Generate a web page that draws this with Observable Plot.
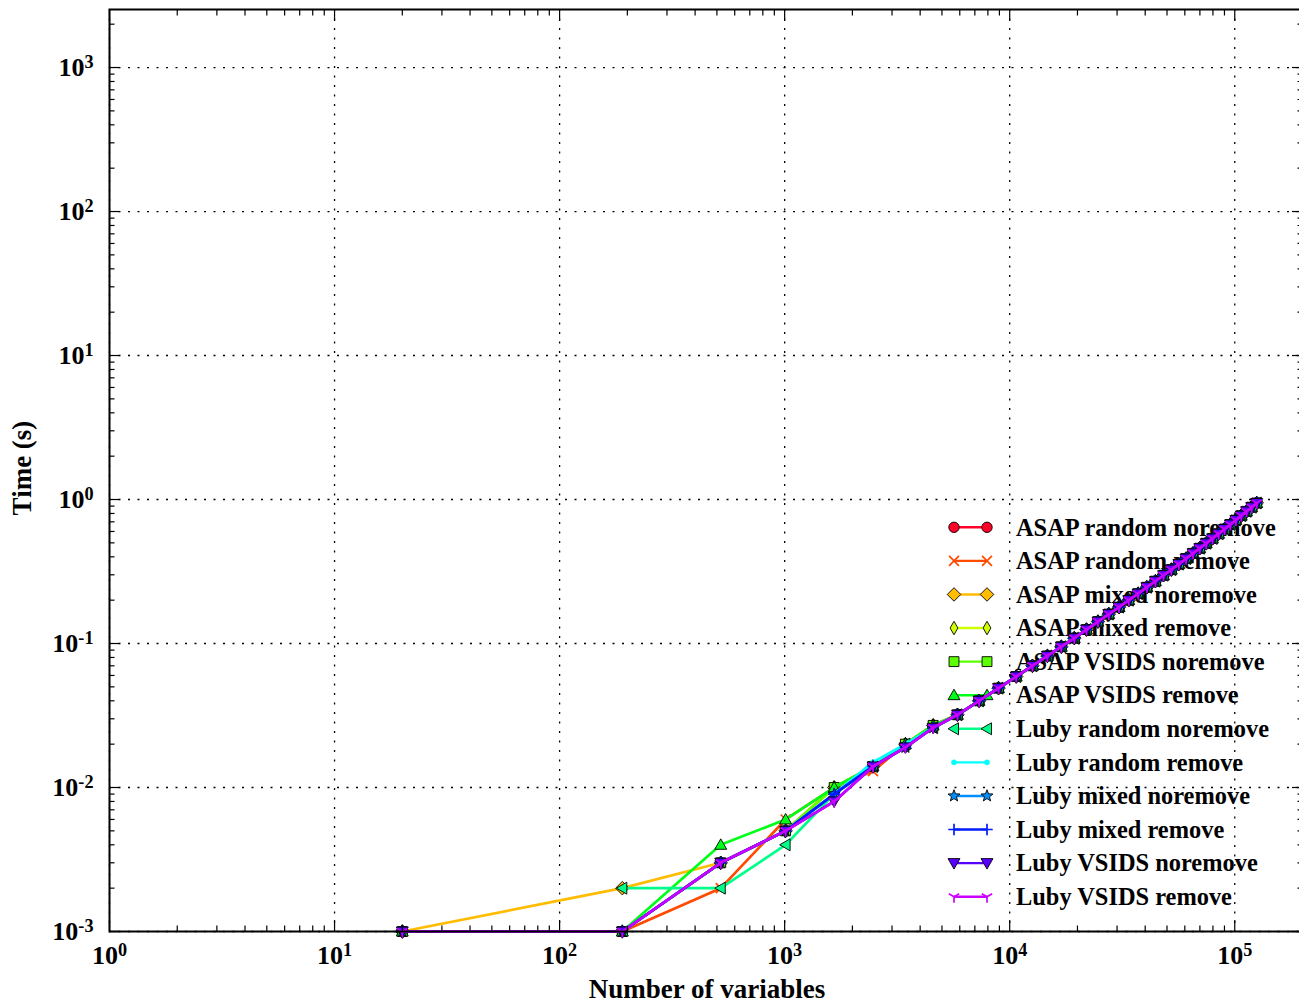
<!DOCTYPE html>
<html><head><meta charset="utf-8">
<script src="https://cdn.jsdelivr.net/npm/d3@7"></script>
<script src="https://cdn.jsdelivr.net/npm/@observablehq/plot@0.6"></script>
<style>
html,body{margin:0;padding:0;background:#fff;overflow:hidden;width:1299px;height:1004px;}
#chart svg{display:block;}
</style></head><body><div id="chart"></div>
<script>
// ---- data ----
const seriesNames = ["ASAP random noremove","ASAP random remove","ASAP mixed noremove","ASAP mixed remove","ASAP VSIDS noremove","ASAP VSIDS remove","Luby random noremove","Luby random remove","Luby mixed noremove","Luby mixed remove","Luby VSIDS noremove","Luby VSIDS remove"];
const seriesColors = ["#ff0029","#ff4a00","#ffbc00","#cfff00","#5cff00","#00ff17","#00ff89","#00fffb","#008fff","#001cff","#5800ff","#cb00ff"];
const seriesMarkers = ["o","x","D","d","s","^","<",".","*","+","v","1"];
const numVariables = [20,190,520,1010,1660,2470,3440,4570,5860,7310,8920,10690,12620,14710,16960,19370,21940,24670,27560,30610,33820,37190,40720,44410,48260,52270,56440,60770,65260,69910,74720,79690,84820,90110,95560,101170,106940,112870,118960,125210];
// first eight problem sizes, per series (seconds)
const headASAPRandomNoremove = [0.001,0.001,0.003,0.005,0.010,0.014,0.020,0.027];
const headASAPRandomRemove   = [0.001,0.001,0.002,0.006,0.010,0.013,0.020,0.027];
const headASAPMixedNoremove  = [0.001,0.002,0.003,0.005,0.010,0.014,0.020,0.027];
const headASAPMixedRemove    = [0.001,0.001,0.003,0.005,0.010,0.014,0.020,0.027];
const headASAPVSIDSNoremove  = [0.001,0.001,0.003,0.005,0.010,0.014,0.020,0.027];
const headASAPVSIDSRemove    = [0.001,0.001,0.004,0.006,0.010,0.014,0.020,0.027];
const headLubyRandomNoremove = [null,0.002,0.002,0.004,0.009,0.014,0.020,0.026];
const headLubyRandomRemove   = [0.001,0.001,0.003,0.005,0.009,0.015,0.020,0.026];
const headLubyMixedNoremove  = [0.001,0.001,0.003,0.005,0.009,0.014,0.019,0.026];
const headLubyMixedRemove    = [0.001,0.001,0.003,0.005,0.009,0.014,0.019,0.026];
const headLubyVSIDSNoremove  = [0.001,0.001,0.003,0.005,0.008,0.014,0.019,0.026];
const headLubyVSIDSRemove    = [0.001,0.001,0.003,0.005,0.008,0.014,0.019,0.026];
// remaining sizes: all twelve series overlap
const sharedTailTimes = [0.032,0.040,0.049,0.059,0.070,0.082,0.095,0.109,0.125,0.142,0.160,0.179,0.200,0.222,0.246,0.271,0.298,0.326,0.356,0.389,0.423,0.459,0.497,0.537,0.579,0.624,0.671,0.720,0.773,0.828,0.885,0.946];
const xMajorTicks = [1,10,100,1000,10000,100000];
const yMajorTicks = [0.001,0.01,0.1,1,10,100,1000];

const heads = [headASAPRandomNoremove,headASAPRandomRemove,headASAPMixedNoremove,headASAPMixedRemove,headASAPVSIDSNoremove,headASAPVSIDSRemove,headLubyRandomNoremove,headLubyRandomRemove,headLubyMixedNoremove,headLubyMixedRemove,headLubyVSIDSNoremove,headLubyVSIDSRemove];
const table = [];
seriesNames.forEach((name,i)=>{
  const times = heads[i].concat(sharedTailTimes);
  numVariables.forEach((n,j)=>table.push({series:name, n, t: times[j]}));
});

function minorTicks(lo, hi){
  const out=[];
  for(let e=Math.floor(Math.log10(lo)); e<=Math.ceil(Math.log10(hi)); e++)
    for(let m=2;m<=9;m++){const v=m*Math.pow(10,e); if(v>lo && v<hi) out.push(v);}
  return out;
}
const xDomain=[1,2e5], yDomain=[1e-3, Math.pow(10,3.403)];
const xMinor = minorTicks(...xDomain), yMinor = minorTicks(...yDomain);

// ---- marker shapes ----
function mk(fn){return {draw(c,s){fn(c, Math.sqrt(s/Math.PI));}};}
const symbolDefs = {
  "o": mk((c,r)=>{c.moveTo(r,0);c.arc(0,0,r,0,2*Math.PI);c.closePath();}),
  "x": mk((c,r)=>{const a=r*0.95;c.moveTo(-a,-a);c.lineTo(a,a);c.moveTo(-a,a);c.lineTo(a,-a);}),
  "D": mk((c,r)=>{const a=r*1.3;c.moveTo(0,-a);c.lineTo(a,0);c.lineTo(0,a);c.lineTo(-a,0);c.closePath();}),
  "d": mk((c,r)=>{const a=r*1.3,b=r*0.75;c.moveTo(0,-a);c.lineTo(b,0);c.lineTo(0,a);c.lineTo(-b,0);c.closePath();}),
  "s": mk((c,r)=>{const a=r*0.95;c.moveTo(-a,-a);c.lineTo(a,-a);c.lineTo(a,a);c.lineTo(-a,a);c.closePath();}),
  "^": mk((c,r)=>{const a=r*1.15;c.moveTo(0,-a);c.lineTo(a,a*0.75);c.lineTo(-a,a*0.75);c.closePath();}),
  "<": mk((c,r)=>{const a=r*1.15;c.moveTo(-a,0);c.lineTo(a*0.75,-a);c.lineTo(a*0.75,a);c.closePath();}),
  ".": mk((c,r)=>{const a=r*0.5;c.moveTo(a,0);c.arc(0,0,a,0,2*Math.PI);c.closePath();}),
  "*": mk((c,r)=>{const R=r*1.2,q=R*0.42;for(let k=0;k<10;k++){const ang=-Math.PI/2+k*Math.PI/5,rr=k%2?q:R;const px=rr*Math.cos(ang),py=rr*Math.sin(ang);k?c.lineTo(px,py):c.moveTo(px,py);}c.closePath();}),
  "+": mk((c,r)=>{const a=r*1.1;c.moveTo(-a,0);c.lineTo(a,0);c.moveTo(0,-a);c.lineTo(0,a);}),
  "v": mk((c,r)=>{const a=r*1.15;c.moveTo(0,a);c.lineTo(a,-a*0.75);c.lineTo(-a,-a*0.75);c.closePath();}),
  "1": mk((c,r)=>{const a=r*1.15;c.moveTo(0,0);c.lineTo(0,a);c.moveTo(0,0);c.lineTo(-0.866*a,-0.5*a);c.moveTo(0,0);c.lineTo(0.866*a,-0.5*a);})
};
const unfilled = new Set(["x","+","1"]);
function markerStyle(m,color){
  if(unfilled.has(m)) return {fill:"none", stroke:color, strokeWidth:1.7};
  if(m===".") return {fill:color, stroke:color, strokeWidth:0.5};
  return {fill:color, stroke:"black", strokeWidth:0.9};
}
const R = 5.2;

const seriesMarks = [];
seriesNames.forEach((name,i)=>{
  const rows = table.filter(d=>d.series===name);
  seriesMarks.push(Plot.line(rows,{x:"n", y:"t", stroke:seriesColors[i], strokeWidth:2.7}));
  seriesMarks.push(Plot.dot(rows.filter(d=>d.t!=null),{x:"n", y:"t", r:R, symbol:symbolDefs[seriesMarkers[i]], ...markerStyle(seriesMarkers[i],seriesColors[i])}));
});

const supFmt = d => "10^" + Math.round(Math.log10(d));
const blank = () => "";
const tickStyle = {stroke:"black", strokeWidth:1.2};

const chart = Plot.plot({
  width:1302, height:1004,
  marginLeft:109, marginRight:0, marginTop:9, marginBottom:73,
  style:{maxWidth:"none", overflow:"visible", background:"white", fontFamily:"'Liberation Serif', serif", fontWeight:"bold", color:"black"},
  x:{type:"log", domain:xDomain, label:null},
  y:{type:"log", domain:yDomain, label:null},
  marks:[
    Plot.gridX(xMajorTicks,{stroke:"black", strokeOpacity:1, strokeWidth:1.3, strokeDasharray:"2,7.5"}),
    Plot.gridY(yMajorTicks,{stroke:"black", strokeOpacity:1, strokeWidth:1.3, strokeDasharray:"2,7.5"}),
    ...seriesMarks,
    Plot.axisX({anchor:"bottom", ticks:xMinor, tickSize:-5.5, tickFormat:blank, label:null, ...tickStyle}),
    Plot.axisX({anchor:"bottom", ticks:xMajorTicks, tickSize:-11, tickPadding:25, lineAnchor:"top", tickFormat:supFmt, fontSize:26, label:null, ...tickStyle}),
    Plot.axisX({anchor:"top", ticks:xMinor, tickSize:-5.5, tickFormat:blank, label:null, ...tickStyle}),
    Plot.axisX({anchor:"top", ticks:xMajorTicks, tickSize:-11, tickFormat:blank, label:null, ...tickStyle}),
    Plot.axisY({anchor:"left", ticks:yMinor, tickSize:-5.5, tickFormat:blank, label:null, ...tickStyle}),
    Plot.axisY({anchor:"left", ticks:yMajorTicks, tickSize:-11, tickPadding:27, tickFormat:supFmt, fontSize:26, label:null, ...tickStyle}),
    Plot.axisY({anchor:"right", ticks:yMinor, tickSize:-5.5, tickFormat:blank, label:null, ...tickStyle}),
    Plot.axisY({anchor:"right", ticks:yMajorTicks, tickSize:-11, tickFormat:blank, label:null, ...tickStyle}),
    Plot.frame({stroke:"black", strokeWidth:2})
  ]
});
document.getElementById("chart").appendChild(chart);

// superscript exponents in tick labels
d3.select(chart).selectAll('g[aria-label="x-axis tick label"] text, g[aria-label="y-axis tick label"] text').each(function(){
  const t=this.textContent; if(!t.includes("^")) return;
  const [b,e]=t.split("^");
  const s=d3.select(this); s.text(b);
  s.append("tspan").attr("dy","-0.45em").attr("font-size","0.7em").text(e);
});

// axis titles
const ys = chart.scale("y");
const svg = d3.select(chart);
svg.append("text").attr("x",707).attr("y",998).attr("text-anchor","middle")
  .attr("font-size",27).attr("font-weight","bold").text("Number of variables");
svg.append("text").attr("transform",`translate(31,${(ys.range[0]+ys.range[1])/2 - 2}) rotate(-90)`)
  .attr("text-anchor","middle").attr("font-size",27).attr("font-weight","bold").text("Time (s)");

// legend (drawn beneath the data lines, no frame)
const firstLine = chart.querySelector('g[aria-label="line"]');
const lgNode = document.createElementNS("http://www.w3.org/2000/svg","g");
chart.insertBefore(lgNode, firstLine);
const lg = d3.select(lgNode).attr("text-anchor","start");
seriesNames.forEach((name,i)=>{
  const yy = 527.3 + i*33.58;
  const m = seriesMarkers[i], st = markerStyle(m, seriesColors[i]);
  lg.append("line").attr("x1",954).attr("x2",987).attr("y1",yy).attr("y2",yy).attr("stroke",seriesColors[i]).attr("stroke-width",2.4);
  [954,987].forEach(px=>{
    lg.append("path").attr("transform",`translate(${px},${yy})`)
      .attr("d", d3.symbol(symbolDefs[m], Math.PI*R*R)())
      .attr("fill",st.fill).attr("stroke",st.stroke).attr("stroke-width",st.strokeWidth);
  });
  lg.append("text").attr("x",1016).attr("y",yy).attr("dy","0.34em").attr("text-anchor","start")
    .attr("font-size",24.4).attr("font-weight","bold").text(name);
});
</script></body></html>
